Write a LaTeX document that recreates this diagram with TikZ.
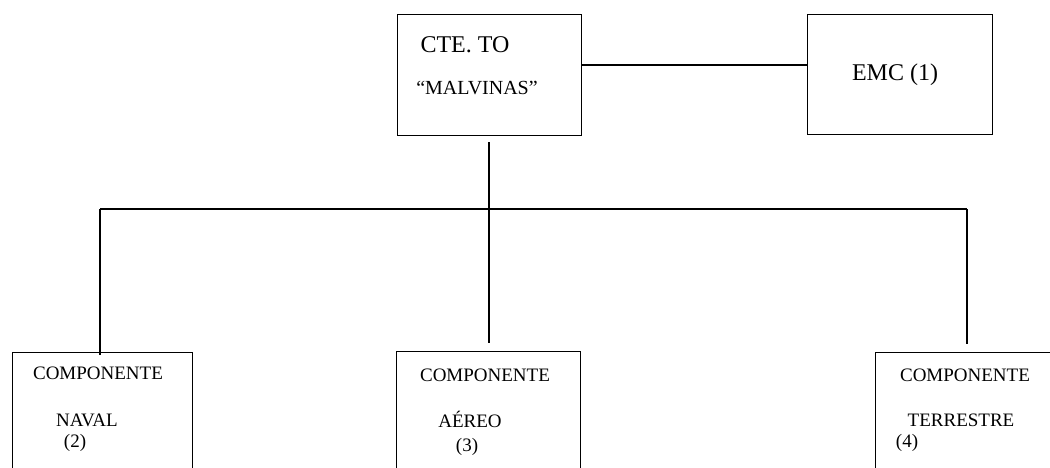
\documentclass[tikz,border=0pt]{standalone}
\usepackage{fontspec}
\setmainfont{Liberation Serif}
\begin{document}
\begin{tikzpicture}[x=1pt,y=-1pt,
  box/.style={draw,line width=1.1pt,inner sep=0pt,anchor=north west},
  conn/.style={line width=1.1pt},
  big/.style={font=\fontsize{24}{28}\selectfont,inner sep=0pt},
  mid/.style={font=\fontsize{20}{24}\selectfont,inner sep=0pt},
  small/.style={font=\fontsize{19}{22}\selectfont,inner sep=0pt}]
\useasboundingbox (0,0) rectangle (1050,467);
% boxes
\node[box,minimum width=184pt,minimum height=121pt] (cte) at (397,14) {};
\node[box,minimum width=185pt,minimum height=120pt] (emc) at (807,14) {};
\node[box,minimum width=180pt,minimum height=130pt] (naval) at (12,352) {};
\node[box,minimum width=184pt,minimum height=130pt] (aereo) at (396,351) {};
\node[box,minimum width=200pt,minimum height=130pt] (terr) at (875,352) {};
% texts
\node[big] (t1) at (465,45) {CTE. TO};
\node[mid] (t2) at (477,88) {``MALVINAS''};
\node[big] (t3) at (895,75) {EMC (1)};
\node[small] (c1) at (98,373) {COMPONENTE};
\node[small] (n1) at (87,420) {NAVAL};
\node[small] (n2) at (75,443) {(2)};
\node[small] (c2) at (485,375) {COMPONENTE};
\node[small] (a1) at (470,419) {AÉREO};
\node[small] (a2) at (467,447) {(3)};
\node[small] (c3) at (965,375) {COMPONENTE};
\node[small] (r1) at (961,420) {TERRESTRE};
\node[small] (r2) at (907,443) {(4)};
% connectors
\coordinate (j1) at (581,65);
\draw[conn] (j1) -- (j1 -| emc.west);
\coordinate (busL) at (100,209);
\coordinate (busR) at (967,209);
\coordinate (mtop) at (489,142);
\coordinate (mbot) at (489,343);
\coordinate (lbot) at (100,355);
\coordinate (rbot) at (967,344);
\draw[conn] (busL) -- (busR);
\draw[conn] (mtop) -- (mbot);
\draw[conn] (busL) -- (lbot);
\draw[conn] (busR) -- (rbot);
\end{tikzpicture}
\end{document}
